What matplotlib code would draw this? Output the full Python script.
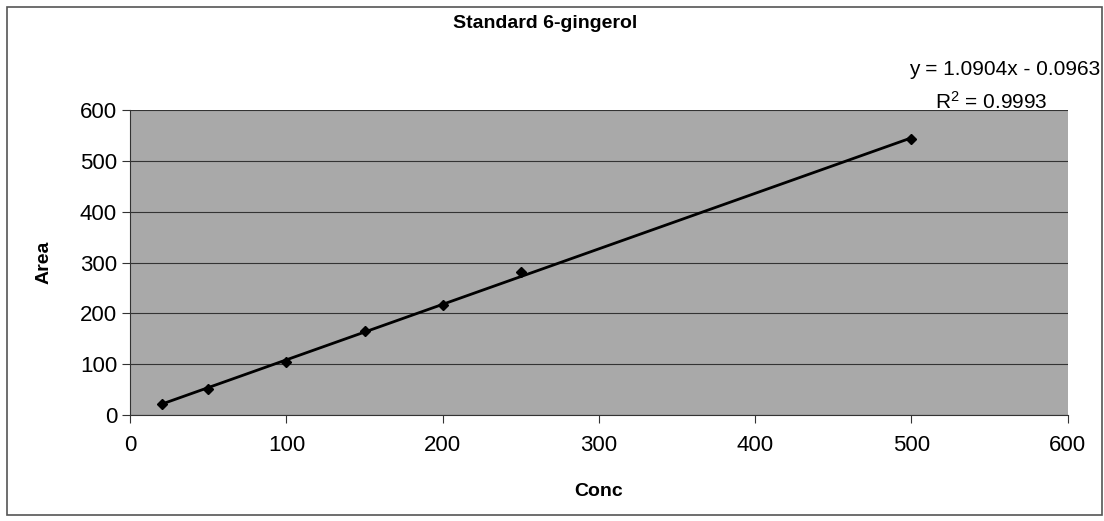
import numpy as np
import matplotlib.pyplot as plt
from matplotlib.patches import Rectangle

conc = [20, 50, 100, 150, 200, 250, 500]
area = [22, 51, 104, 166, 217, 282, 543]
slope = 1.0904
intercept = -0.0963
r2 = 0.9993

fig = plt.figure(figsize=(11.04, 5.21), dpi=100)
plt.rcParams['font.family'] = ['Liberation Sans', 'DejaVu Sans']

# outer chart border
fig.patches.append(Rectangle((0.006, 0.012), 0.992, 0.975, transform=fig.transFigure,
                             fill=False, edgecolor='#555555', lw=1.2))

ax = fig.add_axes([0.118, 0.203, 0.849, 0.586])
ax.set_facecolor('#a9a9a9')
ax.set_xlim(0, 600)
ax.set_ylim(0, 600)
ax.set_xticks(range(0, 601, 100))
ax.set_yticks(range(0, 601, 100))
ax.yaxis.grid(True, color='#333333', lw=0.8)
ax.set_axisbelow(True)
for s in ['top', 'right']:
    ax.spines[s].set_visible(False)
for s in ['left', 'bottom']:
    ax.spines[s].set_color('#333333')
ax.tick_params(labelsize=16, direction='out', length=6, color='#333333')
ax.tick_params(axis='x', pad=8)

xf = np.array([min(conc), max(conc)])
ax.plot(xf, slope * xf + intercept, color='black', lw=2, zorder=3)
ax.plot(conc, area, 'D', color='black', ms=5, zorder=4)

ax.set_xlabel('Conc', fontsize=14, fontweight='bold', labelpad=20)
ax.set_ylabel('Area', fontsize=14, fontweight='bold', labelpad=20)
fig.text(0.494, 0.955, 'Standard 6-gingerol', fontsize=14, fontweight='bold', ha='center', va='center')
fig.text(0.997, 0.866, 'y = 1.0904x - 0.0963', fontsize=15, ha='right', va='center')
fig.text(0.898, 0.805, '$\\mathregular{R^2}$ = %.4f' % r2, fontsize=15, ha='center', va='center')

fig.savefig('out.png', dpi=100)
